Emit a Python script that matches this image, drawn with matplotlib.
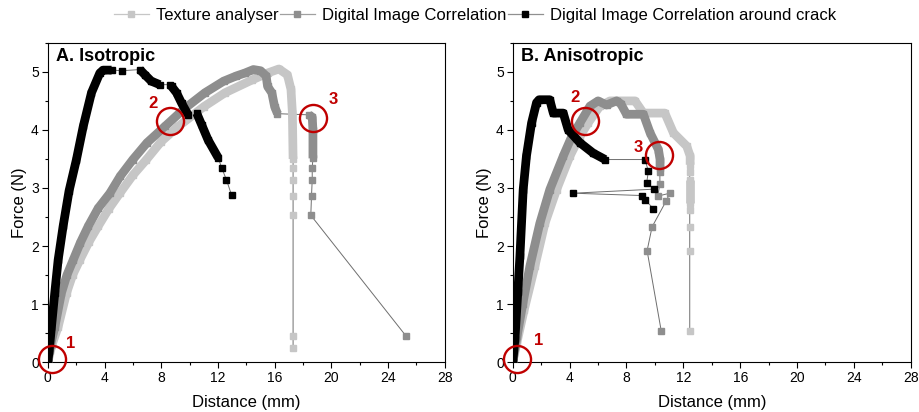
import numpy as np
import matplotlib
matplotlib.use('Agg')
import matplotlib.pyplot as plt
from matplotlib.lines import Line2D
from matplotlib.ticker import MultipleLocator

plt.rcParams['font.family'] = ['Liberation Sans', 'DejaVu Sans']

LABELS = ['Texture analyser', 'Digital Image Correlation',
          'Digital Image Correlation around crack']

# ---- A. Isotropic ----
iso_ta_x = [0, 0.3, 0.73, 1.32, 1.75, 2.26, 2.9, 3.55, 4.3, 5.08, 6.0, 6.96, 8.0, 9.2, 11.0, 12.5, 14.4, 15.5, 16.3,
            16.9, 17.15, 17.25, 17.3,
            17.3, 17.3, 17.3, 17.3, 17.3, 17.3]
iso_ta_y = [0, 0.3, 0.61, 1.19, 1.5, 1.76, 2.07, 2.34, 2.64, 2.91, 3.22, 3.49, 3.8, 4.06, 4.4, 4.64, 4.86, 4.98, 5.05,
            4.95, 4.7, 4.3, 3.5,
            3.35, 3.14, 2.87, 2.53, 0.455, 0.25]

iso_dic_x = [0, 0.2, 0.5, 0.96, 1.35, 1.79, 2.3, 2.85, 3.55, 4.38, 5.1, 6.0, 7.0, 8.26, 9.6, 11.08, 12.4, 13.3, 13.9,
             14.5, 15.0, 15.4, 15.5, 15.8, 16.0, 16.2,
             18.4, 18.65, 18.7, 18.7,
             18.65, 18.65, 18.6, 18.55, 25.25]
iso_dic_y = [0, 0.3, 0.61, 1.19, 1.5, 1.76, 2.06, 2.34, 2.65, 2.91, 3.2, 3.49, 3.78, 4.06, 4.36, 4.64, 4.84, 4.93, 4.98,
             5.04, 5.02, 4.93, 4.75, 4.64, 4.4, 4.28,
             4.26, 4.22, 4.0, 3.51,
             3.35, 3.14, 2.87, 2.53, 0.455]

iso_crack_x = [0, 0.1, 0.26, 0.49, 0.73, 1.08, 1.5, 2.02, 2.5, 3.08, 3.67, 3.9, 4.5, 5.25,
               6.49, 6.85, 7.3, 7.9, 8.6, 8.73, 9.08, 9.44, 9.9,
               10.5, 10.85, 11.3, 12.02, 12.26, 12.6, 12.96]
iso_crack_y = [0, 0.2, 0.61, 1.19, 1.76, 2.34, 2.95, 3.49, 4.06, 4.64, 4.98, 5.03, 5.03, 5.02,
               5.04, 4.95, 4.84, 4.78, 4.78, 4.75, 4.64, 4.46, 4.26,
               4.29, 4.09, 3.83, 3.52, 3.35, 3.14, 2.88]

# ---- B. Anisotropic ----
ani_ta_x = [0, 0.3, 0.8, 1.55, 2.26, 3.08, 4.02, 4.7, 5.3, 6.13, 6.84, 8.6, 9.19, 10.7, 11.3, 12.24, 12.48, 12.48,
            12.45, 12.45, 12.45, 12.45, 12.45, 12.45, 12.45]
ani_ta_y = [0, 0.35, 0.9, 1.65, 2.39, 2.97, 3.55, 3.88, 4.12, 4.41, 4.5, 4.5, 4.29, 4.29, 3.95, 3.72, 3.55, 3.4,
            3.28, 3.14, 2.74, 2.62, 2.32, 1.92, 0.53]

ani_dic_x = [0, 0.3, 0.7, 1.2, 1.9, 2.6, 3.55, 4.1, 4.72, 5.43, 6.0, 6.6, 7.3, 7.6, 8.0, 9.19, 9.66, 10.25, 10.36, 10.36,
             10.35, 10.35, 10.2, 11.05, 10.8, 9.8, 9.45, 10.45]
ani_dic_y = [0, 0.45, 1.0, 1.65, 2.39, 2.97, 3.55, 3.86, 4.12, 4.41, 4.5, 4.43, 4.5, 4.45, 4.27, 4.27, 3.95, 3.66, 3.49, 3.35,
             3.28, 3.07, 2.86, 2.91, 2.78, 2.33, 1.92, 0.53]

ani_crack_x = [0, 0.15, 0.35, 0.5, 0.73, 0.96, 1.32, 1.67, 1.85, 2.6, 2.85, 3.55, 3.9, 4.72, 5.66, 6.5,
               9.3, 9.54, 9.42, 9.96, 4.25, 9.07, 9.3, 9.9]
ani_crack_y = [0, 0.4, 1.2, 1.82, 2.97, 3.55, 4.12, 4.47, 4.52, 4.52, 4.29, 4.29, 4.0, 3.78, 3.6, 3.49,
               3.49, 3.29, 3.09, 2.98, 2.91, 2.87, 2.8, 2.64]

# annotation circles (x, y) and labels
iso_circles = [(0.3, 0.05), (8.6, 4.15), (18.7, 4.2)]
iso_numbers = [(1.6, 0.32), (7.4, 4.45), (20.1, 4.52)]
ani_circles = [(0.3, 0.05), (5.05, 4.15), (10.3, 3.57)]
ani_numbers = [(1.8, 0.38), (4.4, 4.55), (8.8, 3.7)]

COLORS = ['#c6c6c6', '#8e8e8e', '#000000']
LEGEND_LINE = ['#c6c6c6', '#a0a0a0', '#909090']
LINE_COLOR = '#6e6e6e'
RED = '#c00000'


def draw_series(ax, x, y, color, dense):
    x = np.array(x)
    y = np.array(y)
    ax.plot(x, y, '-', color=LINE_COLOR, lw=0.7, zorder=2)
    ax.plot(x, y, 's', color=color, ms=5, mec=color, zorder=3)
    for start, end in dense:
        ax.plot(x[start:end], y[start:end], '-', color=color, lw=6.3,
                solid_capstyle='butt', solid_joinstyle='round', zorder=3)


def style_axes(ax, title, circles, numbers):
    ax.set_xlim(0, 28)
    ax.set_ylim(0, 5.5)
    ax.xaxis.set_major_locator(MultipleLocator(4))
    ax.xaxis.set_minor_locator(MultipleLocator(2))
    ax.yaxis.set_major_locator(MultipleLocator(1))
    ax.yaxis.set_minor_locator(MultipleLocator(0.5))
    ax.tick_params(which='both', direction='out', top=False, right=False, labelsize=10, pad=2)
    ax.tick_params(which='major', length=4.5, width=0.8)
    ax.tick_params(which='minor', length=2.5, width=0.8)
    for sp in ax.spines.values():
        sp.set_linewidth(0.8)
    ax.set_xlabel('Distance (mm)', fontsize=12, labelpad=7)
    ax.set_ylabel('Force (N)', fontsize=12, labelpad=3)
    ax.text(0.02, 0.985, title, transform=ax.transAxes, ha='left', va='top',
            fontsize=13, fontweight='bold')
    for (cx, cy) in circles:
        ax.plot(cx, cy, 'o', ms=19.5, mfc='none', mec=RED, mew=1.7, zorder=5, clip_on=False)
    for i, (nx, ny) in enumerate(numbers):
        ax.text(nx, ny, str(i + 1), color=RED, fontsize=12, fontweight='bold',
                ha='center', va='center', zorder=6)


fig = plt.figure(figsize=(9.19, 4.12), dpi=100)
ax1 = fig.add_axes([0.052, 0.121, 0.432, 0.775])
ax2 = fig.add_axes([0.558, 0.121, 0.433, 0.775])

draw_series(ax1, iso_ta_x, iso_ta_y, COLORS[0], [(0, 23)])
draw_series(ax1, iso_dic_x, iso_dic_y, COLORS[1], [(0, 26), (26, 30)])
draw_series(ax1, iso_crack_x, iso_crack_y, COLORS[2], [(0, 13), (14, 18), (19, 23), (23, 27)])
style_axes(ax1, 'A. Isotropic', iso_circles, iso_numbers)

draw_series(ax2, ani_ta_x, ani_ta_y, COLORS[0], [(0, 18), (19, 21)])
draw_series(ax2, ani_dic_x, ani_dic_y, COLORS[1], [(0, 20)])
draw_series(ax2, ani_crack_x, ani_crack_y, COLORS[2], [(0, 16)])
style_axes(ax2, 'B. Anisotropic', ani_circles, ani_numbers)

handles = [Line2D([0], [0], color=lc, lw=0.9, marker='s', ms=4.5, mfc=c, mec=c)
           for c, lc in zip(COLORS, LEGEND_LINE)]
fig.legend(handles, LABELS, loc='center', bbox_to_anchor=(0.517, 0.962), ncol=3,
           frameon=False, fontsize=12, handlelength=2.1, handletextpad=0.45,
           columnspacing=0.05, borderaxespad=0, borderpad=0)

fig.savefig('out.png', dpi=100)
